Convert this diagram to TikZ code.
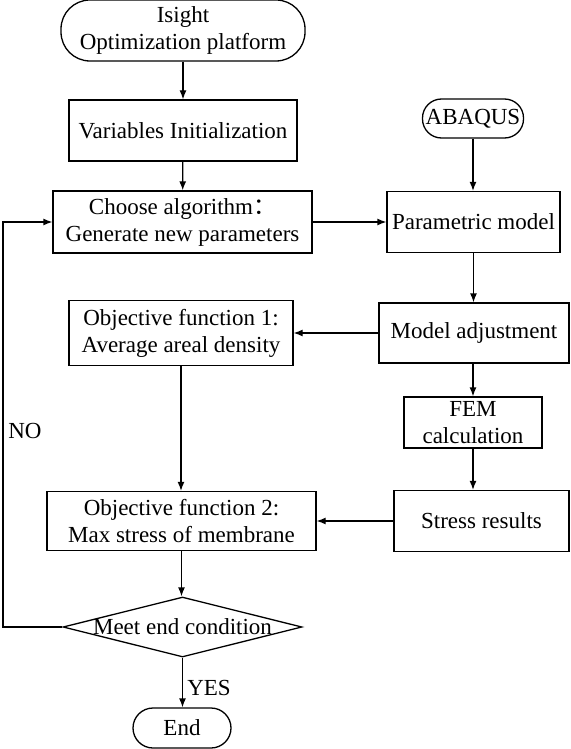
\documentclass[tikz,border=0pt]{standalone}
\usepackage{fontspec}
\setmainfont{Liberation Serif}
\newfontfamily\cjk{Noto Sans CJK SC}
\usetikzlibrary{shapes.geometric,arrows.meta}

\begin{document}
\begin{tikzpicture}
  [x=1pt,y=1pt,line width=1.3pt,
   font=\fontsize{23}{27}\selectfont,
   >={Latex[length=9pt,width=7pt]},
   flowNode/.style={draw,align=center,inner sep=0pt},
   boxN/.style={flowNode,rectangle},
   termN/.style={flowNode,rectangle,rounded corners=#1},
   condN/.style={draw,diamond,inner sep=0pt,minimum width=239pt,minimum height=60pt},
  ]
 \useasboundingbox (0,0) rectangle (570,-749);

 % left column
 \node[termN=29pt,minimum width=244pt,minimum height=61pt] (isight) at (183,-30.5) {Isight\\Optimization platform};
 \node[boxN,minimum width=228pt,minimum height=61pt] (init) at (183,-130.5) {Variables Initialization};
 \node[boxN,minimum width=259pt,minimum height=62pt] (choose) at (182.5,-222) {Choose algorithm{\cjk ：}\\Generate new parameters};
 \node[boxN,minimum width=224pt,minimum height=65pt] (obj1) at (181,-333) {Objective function 1:\\Average areal density};
 \node[boxN,minimum width=269pt,minimum height=59pt] (obj2) at (181.5,-521) {Objective function 2:\\Max stress of membrane};
 \node[condN] (cond) at (182.5,-627) {};
 \node (condtext) at (cond) {Meet end condition};
 \node[termN=20pt,minimum width=98pt,minimum height=40pt] (end) at (182,-728) {End};

 % right column
 \node[termN=19pt,minimum width=101pt,minimum height=39pt] (abaqus) at (473,-118.5) {ABAQUS};
 \node[boxN,minimum width=173pt,minimum height=61pt] (param) at (473.5,-222) {Parametric model};
 \node[boxN,minimum width=190pt,minimum height=60pt] (adjust) at (474,-333) {Model adjustment};
 \node[boxN,minimum width=138pt,minimum height=51pt] (fem) at (473,-422.5) {FEM\\calculation};
 \node[boxN,minimum width=175pt,minimum height=61pt] (stress) at (481.5,-521) {Stress results};

 \node (no) at (25,-431) {NO};
 \node (yes) at (209,-688) {YES};
 \coordinate (loop) at (3,-627);

 \draw[->] (isight) -- (init);
 \draw[->] (init) -- (choose);
 \draw[->] (choose) -- (param);
 \draw[->] (abaqus) -- (abaqus |- param.north);
 \draw[->] (param) -- (param |- adjust.north);
 \draw[->] (adjust) -- (obj1);
 \draw[->] (fem |- adjust.south) -- (fem);
 \draw[->] (fem) -- (fem |- stress.north);
 \draw[->] (stress) -- (obj2);
 \draw[->] (obj1) -- (obj1 |- obj2.north);
 \draw[->] (obj2) -- (obj2 |- cond.north);
 \draw[->] (cond) -- (cond |- end.north);
 \draw[->] (cond.west) -- (loop) |- (choose.west);

\end{tikzpicture}
\end{document}
